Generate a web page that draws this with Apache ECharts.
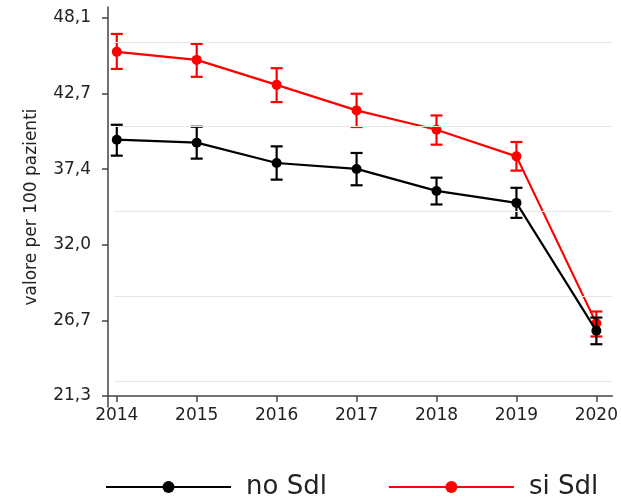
<!DOCTYPE html>
<html>
<head>
<meta charset="utf-8">
<script src="https://cdn.jsdelivr.net/npm/echarts@6/dist/echarts.min.js"></script>
<style>
html,body{margin:0;padding:0;background:#fff;}
#chart{width:621px;height:499px;}
</style>
</head>
<body>
<div id="chart"></div>
<script>
// ---- data ----
var years = [2014, 2015, 2016, 2017, 2018, 2019, 2020];
var seriesNames = ['no Sdl', 'si Sdl'];
var noSdl     = [39.47, 39.26, 37.82, 37.40, 35.84, 34.99, 25.92];
var noSdlLow  = [38.34, 38.13, 36.64, 36.24, 34.88, 33.93, 24.97];
var noSdlHigh = [40.53, 40.39, 39.00, 38.53, 36.78, 36.06, 26.86];
var siSdl     = [45.70, 45.13, 43.36, 41.55, 40.18, 38.29, 26.45];
var siSdlLow  = [44.49, 43.93, 42.14, 40.37, 39.12, 37.28, 25.52];
var siSdlHigh = [46.97, 46.26, 44.54, 42.73, 41.19, 39.31, 27.29];
var yTickValues = [21.3, 26.66, 32.02, 37.38, 42.74, 48.1];
var yTickLabels = ['21,3', '26,7', '32,0', '37,4', '42,7', '48,1'];
var gridValues = [22.37, 28.37, 34.38, 40.39, 46.40];
var yAxisTitle = 'valore per 100 pazienti';

// ---- chart ----
var FONT = 'DejaVu Sans';
var RED = '#ff0000', BLACK = '#000000', AXIS = '#444444';

function pairs(a, b, c) {
  return years.map(function (y, i) { return c ? [y, a[i], b[i]] : [y, a[i]]; });
}
function errRender(color) {
  return function (params, api) {
    var x = api.value(0), lo = api.value(1), hi = api.value(2);
    var p1 = api.coord([x, lo]), p2 = api.coord([x, hi]);
    var w = 6;
    var st = { stroke: color, lineWidth: 2.2 };
    return {
      type: 'group',
      children: [
        { type: 'line', shape: { x1: p1[0], y1: p1[1], x2: p2[0], y2: p2[1] }, style: st },
        { type: 'line', shape: { x1: p1[0] - w, y1: p1[1], x2: p1[0] + w, y2: p1[1] }, style: st },
        { type: 'line', shape: { x1: p2[0] - w, y1: p2[1], x2: p2[0] + w, y2: p2[1] }, style: st }
      ]
    };
  };
}

var chart = echarts.init(document.getElementById('chart'), null, { renderer: 'canvas' });
chart.setOption({
  animation: false,
  backgroundColor: '#fff',
  grid: { left: 108, right: 8, top: 7, bottom: 92, containLabel: false },
  xAxis: {
    type: 'value', min: 2013.89, max: 2020.2,
    offset: -11,
    splitLine: { show: false },
    axisLine: { lineStyle: { color: AXIS, width: 1.5 } },
    axisTick: { customValues: years, length: 6, lineStyle: { color: AXIS, width: 1.5 } },
    axisLabel: {
      customValues: years, margin: 11,
      fontFamily: FONT, fontSize: 17, color: '#222',
      formatter: function (v) { return String(v); }
    }
  },
  yAxis: {
    type: 'value', min: 20.52, max: 48.88,
    name: yAxisTitle, nameLocation: 'middle', nameGap: 68,
    nameTextStyle: { fontFamily: FONT, fontSize: 17, color: '#222' },
    splitLine: { show: false },
    axisLine: { show: true, lineStyle: { color: AXIS, width: 1.5 } },
    axisTick: { show: true, customValues: yTickValues, length: 6, lineStyle: { color: AXIS, width: 1.5 } },
    axisLabel: {
      customValues: yTickValues, margin: 17,
      fontFamily: FONT, fontSize: 17, color: '#222',
      formatter: function (v) {
        for (var i = 0; i < yTickValues.length; i++) {
          if (Math.abs(yTickValues[i] - v) < 1e-6) return yTickLabels[i];
        }
        return '';
      }
    }
  },
  legend: {
    data: seriesNames,
    left: 100, top: 469,
    itemWidth: 125, itemHeight: 15, itemGap: 61,
    textStyle: { fontFamily: FONT, fontSize: 26, color: '#222', padding: [0, 0, 0, 10] }
  },
  series: [
    {
      name: 'grid', type: 'line', data: [], silent: true, z: 1,
      markLine: {
        silent: true, symbol: 'none', label: { show: false },
        lineStyle: { color: '#e6e6e6', width: 1.2, type: 'solid' },
        data: gridValues.map(function (v) { return [{ coord: [2013.97, v] }, { coord: [2020.2, v] }]; })
      }
    },
    {
      name: 'siErr', type: 'custom', z: 2,
      renderItem: errRender(RED),
      encode: { x: 0, y: [1, 2] },
      data: pairs(siSdlLow, siSdlHigh, true)
    },
    {
      name: seriesNames[1], type: 'line', z: 3,
      data: pairs(siSdl),
      symbol: 'circle', symbolSize: 10,
      lineStyle: { color: RED, width: 2.2 },
      itemStyle: { color: RED }
    },
    {
      name: 'noErr', type: 'custom', z: 4,
      renderItem: errRender(BLACK),
      encode: { x: 0, y: [1, 2] },
      data: pairs(noSdlLow, noSdlHigh, true)
    },
    {
      name: seriesNames[0], type: 'line', z: 5,
      data: pairs(noSdl),
      symbol: 'circle', symbolSize: 10,
      lineStyle: { color: BLACK, width: 2.2 },
      itemStyle: { color: BLACK }
    }
  ]
});
</script>
</body>
</html>
